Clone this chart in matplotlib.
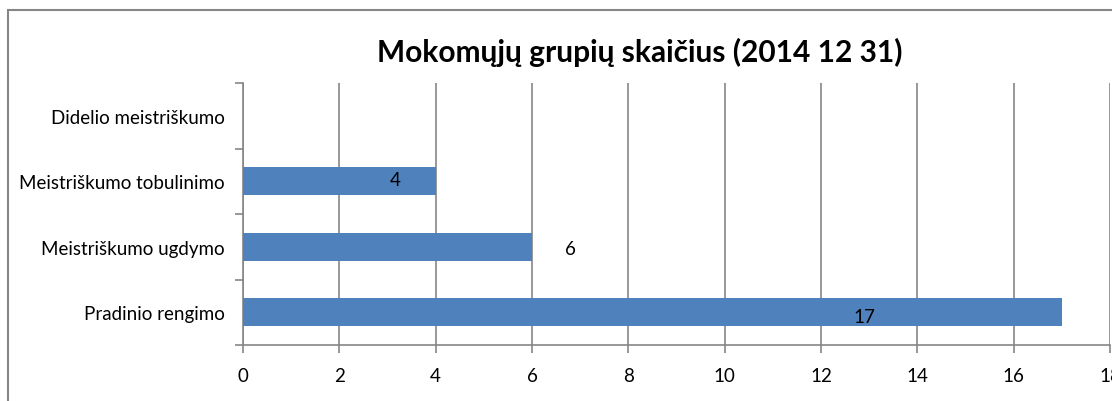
import numpy as np
import matplotlib
matplotlib.use('Agg')
import matplotlib.pyplot as plt
from matplotlib.patches import Rectangle

plt.rcParams['font.family'] = ['Lato', 'DejaVu Sans']

# Data
categories = ['Pradinio rengimo', 'Meistriškumo ugdymo',
              'Meistriškumo tobulinimo', 'Didelio meistriškumo']
values = [17, 6, 4, 0]
# label positions as placed in the original (data coords)
label_x = [12.9, 6.8, 3.15, None]
label_dy = [-0.06, -0.02, 0.02, 0]
title = 'Mokomųjų grupių skaičius (2014 12 31)'

grey = '#868686'
fig = plt.figure(figsize=(11.12, 4.02), dpi=100)
W, H = 1112, 402

# outer chart border (cut off at right and bottom)
fig.patches.append(Rectangle((8 / W, -0.1), 1.2, 1 - 11 / H + 0.1,
                             transform=fig.transFigure, fill=False,
                             edgecolor=grey, lw=1.5))

ax = fig.add_axes([243 / W, 56 / H, 867 / W, 262 / H])
y = np.arange(len(categories))
ax.barh(y, values, height=0.42, color='#4F81BD', zorder=3)

for i, v in enumerate(values):
    if v and label_x[i] is not None:
        ax.text(label_x[i], i + label_dy[i], str(v), ha='center', va='center',
                fontsize=13.5, color='black', zorder=4)

ax.set_xlim(0, 18)
ax.set_ylim(-0.5, len(categories) - 0.5)
ax.set_xticks(np.arange(0, 19, 2))
ax.set_yticks(np.arange(-0.5, len(categories), 1))
ax.set_yticklabels([])
ax.set_yticks(y, minor=True)
ax.set_yticklabels(categories, minor=True)
ax.tick_params(axis='y', which='minor', length=0, pad=13, labelsize=13.5)
ax.tick_params(axis='y', which='major', length=6, width=1.2, color=grey, direction='out')
ax.tick_params(axis='x', length=6, width=1.2, color=grey, direction='out', labelsize=13.5, pad=10)

ax.grid(axis='x', color=grey, lw=1.2, zorder=0)
for s in ['top', 'right']:
    ax.spines[s].set_visible(False)
for s in ['left', 'bottom']:
    ax.spines[s].set_color(grey)
    ax.spines[s].set_linewidth(1.2)

fig.text(640 / W, 1 - 52 / H, title, ha='center', va='center',
         fontsize=21.5, fontweight='bold')

fig.savefig('out.png', dpi=100)
